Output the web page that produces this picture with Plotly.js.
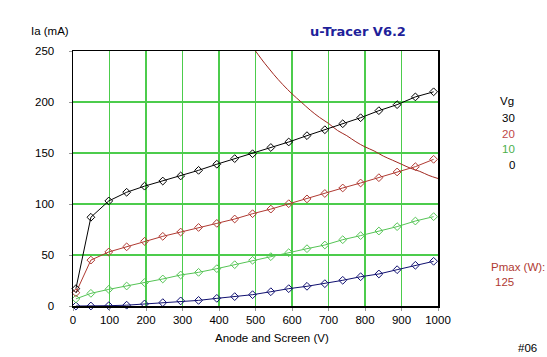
<!DOCTYPE html>
<html>
<head>
<meta charset="utf-8">
<script src="https://cdn.plot.ly/plotly-3.0.1.min.js"></script>
<style>html,body{margin:0;padding:0;background:#fff;}#chart{width:547px;height:357px;}</style>
</head>
<body>
<div id="chart"></div>
<script>
// Anode voltage sample points (V)
const anodeV = [8, 49, 98, 147, 196, 246, 295, 344, 394, 443, 492, 542, 591, 641, 690, 739, 788, 838, 888, 938, 988];
// Anode current (mA) per grid voltage
const ia30 = [17, 87, 103, 111.5, 117.5, 122.5, 127.5, 133, 139, 144.5, 149.3, 155.4, 160.8, 167, 172.8, 178.7, 184.6, 191.5, 197.4, 205, 210];
const ia20 = [13, 45, 53, 58, 63.4, 68.3, 72.5, 77, 81, 85.3, 90.5, 95, 100.3, 105, 110.3, 115.7, 120.6, 125.8, 131.4, 136.6, 143.8];
const ia10 = [7, 12.4, 16.3, 19.6, 23, 26.5, 30.4, 33, 36.6, 40.5, 44.8, 48.4, 52.3, 56.2, 59.8, 65, 69, 73.5, 77.8, 83.3, 87.6];
const ia0  = [0, 0, 0.3, 0.8, 2, 3.3, 5, 5.5, 7.5, 9.2, 11.1, 14, 17, 19.3, 21.9, 25.2, 28.7, 31.4, 35.6, 39.9, 43.8];
// Pmax limit curve
const pmaxV  = [500, 525, 550, 575, 600, 625, 650, 675, 700, 725, 750, 775, 800, 825, 850, 875, 900, 925, 950, 975, 1000];
const pmaxIa = [250, 238, 227, 217, 208, 200, 192, 185, 179, 172, 167, 161, 156, 152, 147, 143, 139, 135, 132, 128, 125];
const xTicks = [0, 100, 200, 300, 400, 500, 600, 700, 800, 900, 1000];
const yTicks = [0, 50, 100, 150, 200, 250];
const vgLabels = ['30', '20', '10', '0'];
const pmaxLabel = '125';

const colors = {k: '#000000', r: '#b03a32', g: '#55c455', b: '#101070'};
const font = 'Liberation Sans, Arial, sans-serif';

function series(y, c) {
  return {x: anodeV, y: y, mode: 'lines+markers', type: 'scatter',
    line: {color: c, width: 1},
    marker: {symbol: 'diamond-open', size: 6, color: c, line: {width: 1, color: c}},
    showlegend: false, hoverinfo: 'skip', cliponaxis: false};
}

const data = [
  {x: pmaxV, y: pmaxIa, mode: 'lines', type: 'scatter', line: {color: '#a02820', width: 1, shape: 'spline'}, showlegend: false, hoverinfo: 'skip'},
  series(ia0, colors.b),
  series(ia10, colors.g),
  series(ia20, colors.r),
  series(ia30, colors.k)
];

const legendColors = ['#000000', '#c04848', '#4caf4c', '#000000'];
const annotations = [
  {text: 'u-Tracer V6.2', x: 358, y: 31, showarrow: false, font: {family: 'DejaVu Sans, sans-serif', size: 13, color: '#1f1f9a', weight: 'bold'}},
  {text: 'Ia (mA)', x: 50, y: 31, showarrow: false, font: {family: font, size: 11.5, color: '#000'}},
  {text: 'Anode and Screen (V)', x: 272, y: 338, showarrow: false, font: {family: font, size: 11.5, color: '#000'}},
  {text: 'Vg', x: 507, y: 101, showarrow: false, font: {family: font, size: 11.5, color: '#000'}},
  {text: 'Pmax (W):', x: 518, y: 267, showarrow: false, font: {family: font, size: 11.5, color: '#b03a32'}},
  {text: pmaxLabel, x: 493, y: 282, xanchor: 'left', showarrow: false, font: {family: font, size: 11.5, color: '#b03a32'}},
  {text: '#06', x: 527, y: 348, showarrow: false, font: {family: font, size: 11.5, color: '#000'}}
];
vgLabels.forEach((t, i) => {
  annotations.push({text: t, x: 517, y: 118 + i * 15.5, xanchor: 'right', showarrow: false, font: {family: font, size: 11.5, color: legendColors[i]}});
});
// convert pixel positions to paper coords
const W = 547, H = 357, L = 73, R = 109, T = 51, B = 51;
annotations.forEach(a => {
  a.xref = 'paper'; a.yref = 'paper';
  a.x = (a.x - L) / (W - L - R);
  a.y = 1 - (a.y - T) / (H - T - B);
  a.yanchor = 'middle';
  if (!a.xanchor) a.xanchor = 'center';
});

const layout = {
  width: W, height: H,
  margin: {l: L, r: R, t: T, b: B, pad: 0},
  paper_bgcolor: '#ffffff', plot_bgcolor: '#ffffff',
  showlegend: false,
  xaxis: {range: [0, 1000], tickvals: xTicks, ticktext: xTicks.map(String),
    showgrid: true, gridcolor: '#4ccc4c', gridwidth: 1.5, zeroline: false,
    showline: true, linecolor: '#000', linewidth: 1.5, mirror: true,
    ticks: 'outside', ticklen: 3, tickcolor: '#999', tickfont: {family: font, size: 11.5, color: '#000'}},
  yaxis: {range: [0, 250], tickvals: yTicks, ticktext: yTicks.map(String),
    showgrid: true, gridcolor: '#4ccc4c', gridwidth: 1.5, zeroline: false,
    showline: true, linecolor: '#000', linewidth: 1.5, mirror: true,
    ticks: 'outside', ticklen: 3, tickcolor: '#999', ticklabelstandoff: 12,
    tickfont: {family: font, size: 11.5, color: '#000'}},
  annotations: annotations
};

Plotly.newPlot('chart', data, layout, {staticPlot: true, displayModeBar: false});
</script>
</body>
</html>
